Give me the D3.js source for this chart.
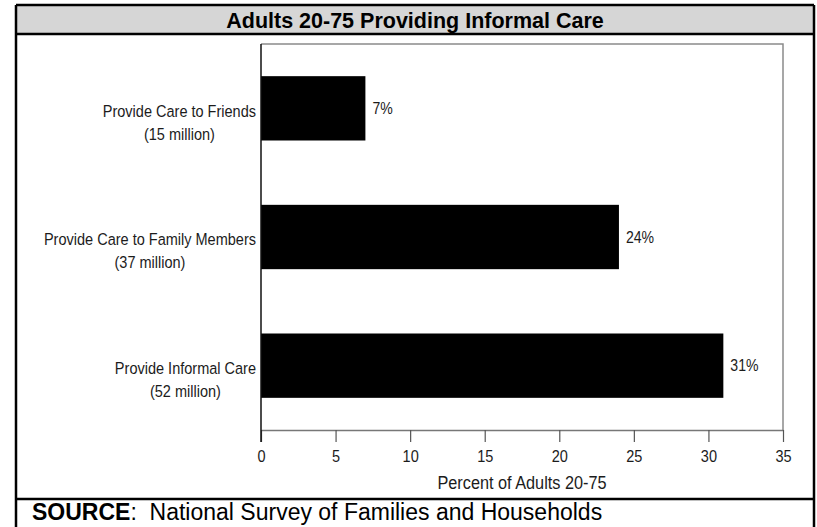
<!DOCTYPE html>
<html>
<head>
<meta charset="utf-8">
<script src="https://cdn.jsdelivr.net/npm/d3@7"></script>
<style>
  html, body { margin: 0; padding: 0; background: #fff; }
  svg { display: block; font-family: "Liberation Sans", Arial, sans-serif; }
</style>
</head>
<body>
<svg id="chart" width="817" height="527"></svg>
<script>
// Share of adults aged 20-75 who provide informal care
const categories = ["Provide Care to Friends", "Provide Care to Family Members", "Provide Informal Care"];
const subLabels = ["(15 million)", "(37 million)", "(52 million)"];
const percentValues = [7, 24, 31];
const tickValues = [0, 5, 10, 15, 20, 25, 30, 35];
const titleText = "Adults 20-75 Providing Informal Care";
const axisTitle = "Percent of Adults 20-75";
const sourceLabel = "SOURCE";
const sourceText = ":  National Survey of Families and Households";

const svg = d3.select("#chart");
const W = 817, H = 527;
const frame = { left: 16, right: 814, top: 5, titleBottom: 34, sourceTop: 499 };
const narrow = 0.88;   // horizontal squeeze for the chart's condensed lettering
const ink = "#1c1c1c";

// Title band
svg.append("rect")
  .attr("x", frame.left).attr("y", frame.top)
  .attr("width", frame.right - frame.left).attr("height", frame.titleBottom - frame.top)
  .attr("fill", "#d6d6d6");
svg.append("text")
  .attr("x", (frame.left + frame.right) / 2).attr("y", 27.5)
  .attr("text-anchor", "middle")
  .attr("font-weight", "bold").attr("font-size", 21.5)
  .attr("fill", "#000")
  .text(titleText);

// Table frame lines
const frameLines = [
  [frame.left, frame.top, frame.right, frame.top],
  [frame.left, frame.titleBottom, frame.right, frame.titleBottom],
  [frame.left, frame.sourceTop, frame.right, frame.sourceTop],
  [frame.left, frame.top, frame.left, H],
  [frame.right, frame.top, frame.right, H]
];
svg.append("g").selectAll("line").data(frameLines).join("line")
  .attr("x1", d => d[0]).attr("y1", d => d[1])
  .attr("x2", d => d[2]).attr("y2", d => d[3])
  .attr("stroke", "#000").attr("stroke-width", 2.5);

// Plot area
const plot = { left: 261, right: 783, top: 44, bottom: 430 };
const x = d3.scaleLinear().domain([0, 35]).range([plot.left, plot.right]);
const y = d3.scaleBand().domain(categories).range([plot.top, plot.bottom])
  .paddingInner(0.5).paddingOuter(0.25);

// Box: top and right edges in gray
svg.append("path")
  .attr("d", `M${plot.left},${plot.top}H${plot.right}V${plot.bottom}`)
  .attr("fill", "none").attr("stroke", "#8a8a8a").attr("stroke-width", 1.5);

// Bars
svg.append("g").selectAll("rect").data(percentValues).join("rect")
  .attr("x", x(0))
  .attr("y", (d, i) => y(categories[i]))
  .attr("width", d => x(d) - x(0))
  .attr("height", y.bandwidth())
  .attr("fill", "#000");

// Value labels
svg.append("g").selectAll("text").data(percentValues).join("text")
  .attr("transform", (d, i) =>
    `translate(${x(d) + 7},${y(categories[i]) + y.bandwidth() / 2 + 1.5}) scale(${narrow},1)`)
  .attr("dominant-baseline", "middle")
  .attr("font-size", 16).attr("fill", ink)
  .text(d => d + "%");

// Category labels (two lines, centred as a block, block right-aligned)
const labelG = svg.append("g");
const labelRight = 256;
categories.forEach((c, i) => {
  const cy = y(c) + y.bandwidth() / 2;
  const t1 = labelG.append("text")
    .attr("transform", `translate(${labelRight},${cy + 4}) scale(${narrow},1)`)
    .attr("text-anchor", "end").attr("dominant-baseline", "middle")
    .attr("font-size", 16.5).attr("fill", ink)
    .text(c);
  const w = t1.node().getComputedTextLength() * narrow;
  labelG.append("text")
    .attr("transform", `translate(${labelRight - w / 2},${cy + 27}) scale(${narrow},1)`)
    .attr("text-anchor", "middle").attr("dominant-baseline", "middle")
    .attr("font-size", 16.5).attr("fill", ink)
    .text(subLabels[i]);
});

// X axis
const xAxis = svg.append("g")
  .attr("transform", `translate(0,${plot.bottom})`)
  .call(d3.axisBottom(x).tickValues(tickValues).tickSize(12).tickPadding(8).tickSizeOuter(0));
xAxis.select(".domain").attr("stroke", "#777").attr("stroke-width", 1.5);
xAxis.selectAll(".tick line").attr("stroke", "#555").attr("stroke-width", 1.2);
xAxis.selectAll(".tick text")
  .attr("font-size", 16.5).attr("fill", ink)
  .attr("font-family", "'Liberation Sans', Arial, sans-serif")
  .attr("transform", `scale(${narrow},1)`);

// Y axis line (solid black)
svg.append("line")
  .attr("x1", plot.left).attr("x2", plot.left)
  .attr("y1", plot.top).attr("y2", plot.bottom + 12)
  .attr("stroke", "#111").attr("stroke-width", 1.5);

// Axis title
svg.append("text")
  .attr("transform", `translate(${(plot.left + plot.right) / 2},489) scale(${narrow},1)`)
  .attr("text-anchor", "middle")
  .attr("font-size", 18.5).attr("fill", ink)
  .text(axisTitle);

// Source row
const src = svg.append("text")
  .attr("x", 32).attr("y", 520)
  .attr("font-size", 23).attr("fill", "#000")
  .attr("xml:space", "preserve");
src.append("tspan").attr("font-weight", "bold").text(sourceLabel);
src.append("tspan").text(sourceText);
</script>
</body>
</html>
